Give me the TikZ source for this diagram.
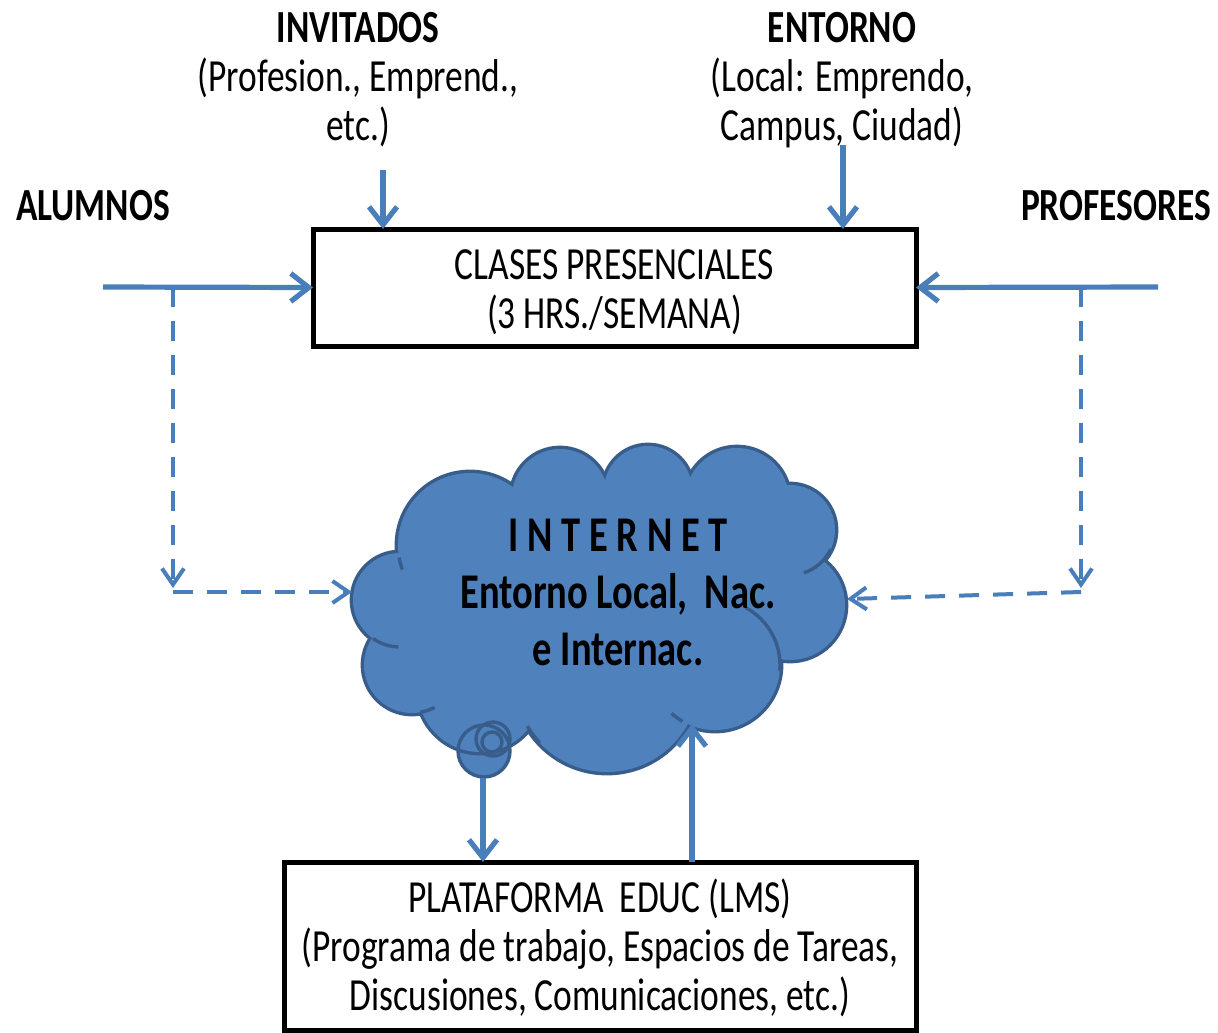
\documentclass[tikz,border=0pt]{standalone}
\usepackage{fontspec}
\setmainfont{Carlito}[FakeStretch=0.77]
\usetikzlibrary{arrows.meta}
\definecolor{arr}{RGB}{74,126,187}
\definecolor{cfill}{RGB}{79,129,189}
\definecolor{cedge}{RGB}{56,93,138}
\tikzset{
  lbl/.style={align=center, inner sep=0pt, font=\fontsize{23}{24.5}\selectfont},
  hdr/.style={align=center, inner sep=0pt, font=\bfseries\fontsize{23}{24.5}\selectfont},
  boxnode/.style={draw=black, line width=2.5pt, align=center, inner sep=0pt, outer sep=0pt, font=\fontsize{23}{24.5}\selectfont},
  flow/.style={draw=arr, line width=2.6pt, -{Straight Barb[length=9pt,width=14pt]}},
  dflow/.style={draw=arr, line width=2pt, dash pattern=on 10pt off 7pt, -{Straight Barb[length=8pt,width=11pt]}},
  cloudtxt/.style={align=center, inner sep=0pt, font=\bfseries\fontsize{25}{28.5}\selectfont},
  cedgeline/.style={draw=cedge, line width=1.7pt},
}
\begin{document}
\begin{tikzpicture}[x=0.5pt,y=-0.5pt]
\useasboundingbox (0,0) rectangle (1218,1032);

% ---------- cloud ----------
\fill[cfill] (484,751) circle[radius=26];
\foreach \cx/\cy/\r in {400/600/47, 412/665/48, 470/545/72, 560/497/48, 648/490/44, 737/500/52, 790/530/45, 790/605/55, 715/665/65, 607/680/92, 480/690/62}
  \draw[cedge, line width=3.4pt] (\cx,\cy) circle[radius=\r];
\draw[cedge, line width=3.4pt] (600,600) ellipse[x radius=200, y radius=120];
\foreach \cx/\cy/\r in {400/600/47, 412/665/48, 470/545/72, 560/497/48, 648/490/44, 737/500/52, 790/530/45, 790/605/55, 715/665/65, 607/680/92, 480/690/62}
  \fill[cfill] (\cx,\cy) circle[radius=\r];
\fill[cfill] (600,600) ellipse[x radius=200, y radius=120];
% inner arcs
\draw[cedgeline] (400,600) ++(125:47) arc[start angle=125, end angle=92, radius=47];
\draw[cedgeline] (412,665) ++(80:48) arc[start angle=80, end angle=62, radius=48];
\draw[cedgeline] (607,680) ++(137:92) arc[start angle=137, end angle=150, radius=92];
\draw[cedgeline] (715,665) ++(120:65) arc[start angle=120, end angle=132, radius=65];
\draw[cedgeline] (715,665) ++(-62:65) arc[start angle=-62, end angle=5, radius=65];
\draw[cedgeline] (790,530) ++(25:45) arc[start angle=25, end angle=72, radius=45];
\draw[cedgeline] (470,545) ++(170:72) arc[start angle=170, end angle=160, radius=72];
% thought bubbles
\draw[cedgeline] (484,751) circle[radius=26];
\draw[cedgeline] (493,739) circle[radius=17];
\draw[cedgeline] (492,742) circle[radius=10];

\node[cloudtxt] (internet) at (618,592) {I N T E R N E T\\Entorno Local,\ \ Nac.\\e Internac.};
\coordinate (cloudW) at (352,592);
\coordinate (cloudE) at (847,599);
\coordinate (cloudS) at (483,778);
\coordinate (cloudIn) at (692,724);

% ---------- labels ----------
\node[hdr] (alumnos) at (93,206) {ALUMNOS};
\node[hdr] (profesores) at (1116,206) {PROFESORES};
\node[lbl] (invitados) at (358,80) {\textbf{INVITADOS}\\(Profesion., Emprend.,\\etc.)};
\node[lbl] (entorno) at (842,80) {\textbf{ENTORNO}\\(Local: Emprendo,\\Campus, Ciudad)};

% ---------- boxes ----------
\node[boxnode, minimum width=301.5pt, minimum height=58.5pt] (clases) at (614.5,287.5) {};
\node[lbl] (clasesTxt) at (614.5,292) {CLASES PRESENCIALES\\(3 HRS./SEMANA)};
\node[boxnode, minimum width=316pt, minimum height=84pt] (plataforma) at (600,946) {};
\node[lbl] (plataformaTxt) at (600,948) {PLATAFORMA\ \ EDUC (LMS)\\(Programa de trabajo, Espacios de Tareas,\\Discusiones, Comunicaciones, etc.)};

% ---------- connectors ----------
\coordinate (alS) at (103,287);
\coordinate (alD) at (173,287);
\coordinate (alC) at (173,588);
\coordinate (alC2) at (173,592);
\coordinate (prS) at (1158,287);
\coordinate (prD) at (1081,287);
\coordinate (prC) at (1081,588);
\coordinate (prC2) at (1081,592);
\coordinate (invA) at (383,170);
\coordinate (entA) at (843,145);

\draw[flow] (alS) -- (clases.west);
\draw[flow] (prS) -- (clases.east);
\draw[flow] (invA) -- (invA |- clases.north);
\draw[flow] (entA) -- (entA |- clases.north);
\draw[dflow] (alD) -- (alC);
\draw[dflow] (alC2) -- (cloudW);
\draw[dflow] (prD) -- (prC);
\draw[dflow] (prC2) -- (cloudE);
\draw[flow] (cloudS) -- (cloudS |- plataforma.north);
\draw[flow] (cloudIn |- plataforma.north) -- (cloudIn);
\end{tikzpicture}
\end{document}
